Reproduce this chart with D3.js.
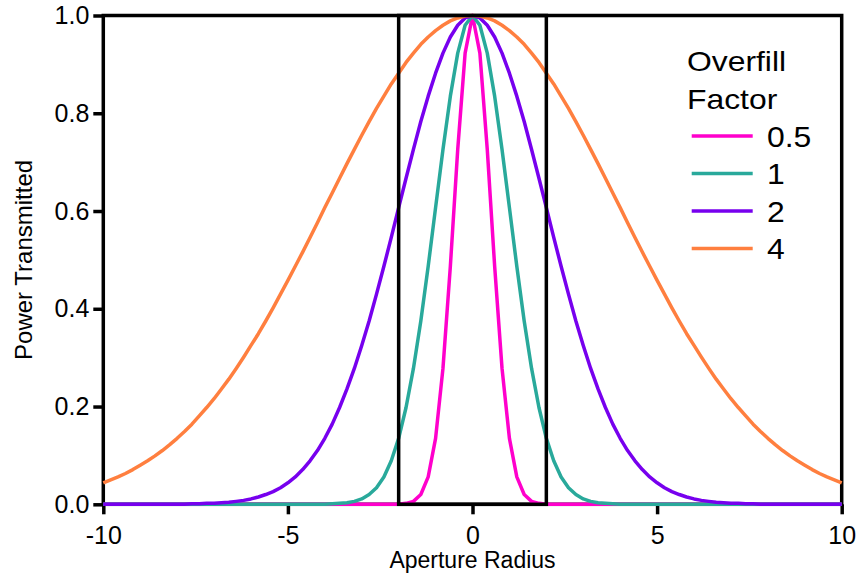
<!DOCTYPE html>
<html>
<head>
<meta charset="utf-8">
<script src="https://cdn.jsdelivr.net/npm/d3@7"></script>
<style>
  body { margin: 0; background: #ffffff; }
  text { font-family: "Liberation Sans", Arial, Helvetica, sans-serif; fill: #000; }
</style>
</head>
<body>
<svg id="chart" width="859" height="574"></svg>
<script>
// Aperture radius samples (shared by every series)
const radius = [
  -10, -9.8, -9.6, -9.4, -9.2, -9, -8.8, -8.6, -8.4, -8.2,
  -8, -7.8, -7.6, -7.4, -7.2, -7, -6.8, -6.6, -6.4, -6.2,
  -6, -5.8, -5.6, -5.4, -5.2, -5, -4.8, -4.6, -4.4, -4.2,
  -4, -3.8, -3.6, -3.4, -3.2, -3, -2.8, -2.6, -2.4, -2.2,
  -2, -1.8, -1.6, -1.4, -1.2, -1, -0.8, -0.6, -0.4, -0.2,
  0,
  0.2, 0.4, 0.6, 0.8, 1, 1.2, 1.4, 1.6, 1.8, 2,
  2.2, 2.4, 2.6, 2.8, 3, 3.2, 3.4, 3.6, 3.8, 4,
  4.2, 4.4, 4.6, 4.8, 5, 5.2, 5.4, 5.6, 5.8, 6,
  6.2, 6.4, 6.6, 6.8, 7, 7.2, 7.4, 7.6, 7.8, 8,
  8.2, 8.4, 8.6, 8.8, 9, 9.2, 9.4, 9.6, 9.8, 10
];

// Power transmitted, overfill factor 0.5
const power05 = [
  0, 0, 0, 0, 0, 0, 0, 0, 0, 0,
  0, 0, 0, 0, 0, 0, 0, 0, 0, 0,
  0, 0, 0, 0, 0, 0, 0, 0, 0, 0,
  0, 0, 0, 0, 0, 0, 0, 0, 0, 0,
  0, 0.002, 0.006, 0.020, 0.056, 0.135, 0.278, 0.487, 0.726, 0.923,
  1.000,
  0.923, 0.726, 0.487, 0.278, 0.135, 0.056, 0.020, 0.006, 0.002, 0,
  0, 0, 0, 0, 0, 0, 0, 0, 0, 0,
  0, 0, 0, 0, 0, 0, 0, 0, 0, 0,
  0, 0, 0, 0, 0, 0, 0, 0, 0, 0,
  0, 0, 0, 0, 0, 0, 0, 0, 0, 0
];

// Power transmitted, overfill factor 1
const power1 = [
  0, 0, 0, 0, 0, 0, 0, 0, 0, 0,
  0, 0, 0, 0, 0, 0, 0, 0, 0, 0,
  0, 0, 0, 0, 0, 0, 0, 0, 0, 0,
  0, 0.001, 0.002, 0.003, 0.006, 0.011, 0.020, 0.034, 0.056, 0.089,
  0.135, 0.198, 0.278, 0.375, 0.487, 0.607, 0.726, 0.835, 0.923, 0.980,
  1.000,
  0.980, 0.923, 0.835, 0.726, 0.607, 0.487, 0.375, 0.278, 0.198, 0.135,
  0.089, 0.056, 0.034, 0.020, 0.011, 0.006, 0.003, 0.002, 0.001, 0,
  0, 0, 0, 0, 0, 0, 0, 0, 0, 0,
  0, 0, 0, 0, 0, 0, 0, 0, 0, 0,
  0, 0, 0, 0, 0, 0, 0, 0, 0, 0
];

// Power transmitted, overfill factor 2
const power2 = [
  0, 0, 0, 0, 0, 0, 0, 0, 0, 0,
  0, 0, 0.001, 0.001, 0.002, 0.002, 0.003, 0.004, 0.006, 0.008,
  0.011, 0.015, 0.020, 0.026, 0.034, 0.044, 0.056, 0.071, 0.089, 0.110,
  0.135, 0.164, 0.198, 0.236, 0.278, 0.325, 0.375, 0.430, 0.487, 0.546,
  0.607, 0.667, 0.726, 0.783, 0.835, 0.882, 0.923, 0.956, 0.980, 0.995,
  1.000,
  0.995, 0.980, 0.956, 0.923, 0.882, 0.835, 0.783, 0.726, 0.667, 0.607,
  0.546, 0.487, 0.430, 0.375, 0.325, 0.278, 0.236, 0.198, 0.164, 0.135,
  0.110, 0.089, 0.071, 0.056, 0.044, 0.034, 0.026, 0.020, 0.015, 0.011,
  0.008, 0.006, 0.004, 0.003, 0.002, 0.002, 0.001, 0.001, 0, 0,
  0, 0, 0, 0, 0, 0, 0, 0, 0, 0
];

// Power transmitted, overfill factor 4
const power4 = [
  0.044, 0.050, 0.056, 0.063, 0.071, 0.080, 0.089, 0.099, 0.110, 0.122,
  0.135, 0.149, 0.164, 0.181, 0.198, 0.216, 0.236, 0.256, 0.278, 0.301,
  0.325, 0.349, 0.375, 0.402, 0.430, 0.458, 0.487, 0.516, 0.546, 0.576,
  0.607, 0.637, 0.667, 0.697, 0.726, 0.755, 0.783, 0.810, 0.835, 0.860,
  0.882, 0.904, 0.923, 0.941, 0.956, 0.969, 0.980, 0.989, 0.995, 0.999,
  1.000,
  0.999, 0.995, 0.989, 0.980, 0.969, 0.956, 0.941, 0.923, 0.904, 0.882,
  0.860, 0.835, 0.810, 0.783, 0.755, 0.726, 0.697, 0.667, 0.637, 0.607,
  0.576, 0.546, 0.516, 0.487, 0.458, 0.430, 0.402, 0.375, 0.349, 0.325,
  0.301, 0.278, 0.256, 0.236, 0.216, 0.198, 0.181, 0.164, 0.149, 0.135,
  0.122, 0.110, 0.099, 0.089, 0.080, 0.071, 0.063, 0.056, 0.050, 0.044
];

const seriesNames = ["0.5", "1", "2", "4"];
const seriesValues = [power05, power1, power2, power4];
const seriesColors = ["#ff00cc", "#29a99b", "#7700ee", "#ff7f3f"];

const legendTitle = ["Overfill", "Factor"];
const xTickValues = [-10, -5, 0, 5, 10];
const xTickLabels = ["-10", "-5", "0", "5", "10"];
const yTickValues = [0, 0.2, 0.4, 0.6, 0.8, 1.0];
const yTickLabels = ["0.0", "0.2", "0.4", "0.6", "0.8", "1.0"];
const apertureEdges = [-2, 2];

const svg = d3.select("#chart");
const x = d3.scaleLinear().domain([-10, 10]).range([103.3, 841.7]);
const y = d3.scaleLinear().domain([0, 1]).range([504.3, 15.5]);
const stroke = 3.5;

// outer frame
svg.append("rect")
  .attr("x", x(-10)).attr("y", y(1))
  .attr("width", x(10) - x(-10)).attr("height", y(0) - y(1))
  .attr("fill", "none").attr("stroke", "#000").attr("stroke-width", stroke);

// axes
const yAxis = d3.axisLeft(y)
  .tickValues(yTickValues)
  .tickFormat((d, i) => yTickLabels[i])
  .tickSize(10).tickPadding(4);
const gy = svg.append("g").attr("transform", `translate(${x(-10)},0)`).call(yAxis);

const xAxis = d3.axisBottom(x)
  .tickValues(xTickValues)
  .tickFormat((d, i) => xTickLabels[i])
  .tickSize(10).tickPadding(12);
const gx = svg.append("g").attr("transform", `translate(0,${y(0)})`).call(xAxis);

[gx, gy].forEach(g => {
  g.select(".domain").remove();
  g.selectAll(".tick line").attr("stroke", "#000").attr("stroke-width", stroke);
  g.selectAll(".tick text")
    .style("font-family", '"Liberation Sans", Arial, sans-serif')
    .style("font-size", "25px").attr("fill", "#000");
});

// curves
const line = d3.line()
  .x((d, i) => x(radius[i]))
  .y(d => y(d));

svg.append("g").selectAll("path")
  .data(seriesValues)
  .join("path")
  .attr("d", line)
  .attr("fill", "none")
  .attr("stroke", (d, i) => seriesColors[i])
  .attr("stroke-width", stroke)
  .attr("stroke-linejoin", "round");

// aperture box
svg.append("rect")
  .attr("x", x(apertureEdges[0])).attr("y", y(1))
  .attr("width", x(apertureEdges[1]) - x(apertureEdges[0]))
  .attr("height", y(0) - y(1))
  .attr("fill", "none").attr("stroke", "#000").attr("stroke-width", stroke);

// axis titles
svg.append("text")
  .attr("x", x(0)).attr("y", 568)
  .attr("text-anchor", "middle")
  .style("font-size", "23px")
  .text("Aperture Radius");

svg.append("text")
  .attr("transform", `translate(32,${(y(0) + y(1)) / 2}) rotate(-90)`)
  .attr("text-anchor", "middle")
  .style("font-size", "24px")
  .text("Power Transmitted");

// legend
const legend = svg.append("g");
legend.selectAll("text.title")
  .data(legendTitle)
  .join("text")
  .attr("class", "title")
  .attr("transform", (d, i) => `translate(687,${71 + i * 37.5}) scale(1.18,1)`)
  .style("font-size", "27px")
  .text(d => d);

const entries = legend.selectAll("g.entry")
  .data(seriesNames)
  .join("g")
  .attr("class", "entry")
  .attr("transform", (d, i) => `translate(0,${136 + i * 37.5})`);

entries.append("line")
  .attr("x1", 691.7).attr("x2", 752.7)
  .attr("stroke", (d, i) => seriesColors[i])
  .attr("stroke-width", stroke);

entries.append("text")
  .attr("transform", "translate(767,10.5) scale(1.1,1)")
  .style("font-size", "29px")
  .text(d => d);
</script>
</body>
</html>
